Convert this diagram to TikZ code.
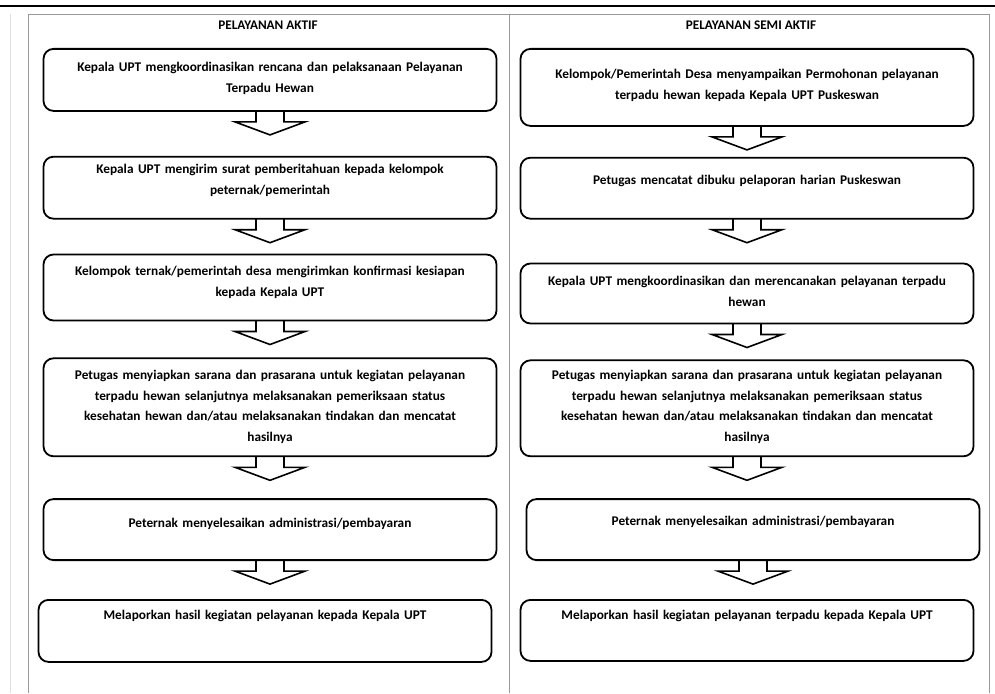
\documentclass[tikz,border=0pt]{standalone}
\usepackage{fontspec}
\setmainfont{Carlito}
\usetikzlibrary{positioning}
\tikzset{
  stepbox/.style={draw, line width=1.8pt, rounded corners=10pt, align=center,
    text width=433pt, inner xsep=10pt, inner ysep=0pt,
    font=\fontsize{13.3}{20.7}\selectfont\bfseries},
  heading/.style={font=\fontsize{13.2}{15}\selectfont\bfseries},
  hollow/.style={draw, line width=1.6pt, line join=miter},
  rule/.style={draw=black!40, line width=0.9pt},
}
\begin{document}
\begin{tikzpicture}[x=1pt, y=-1pt]
\useasboundingbox (0,0) rectangle (995,693);

% table frame
\draw[line width=2pt] (0,6) -- (995,6);
\draw[draw=black!12, line width=0.8pt] (10,14) -- (10,693);
\draw[rule] (28,14) -- (989,14);
\draw[rule] (28,14) -- (28,693);
\draw[rule] (509,14) -- (509,693);
\draw[rule] (989,14) -- (989,693);

\node[heading] (headaktif) at (268,25) {PELAYANAN AKTIF};
\node[heading] (headsemi) at (751,25) {PELAYANAN SEMI AKTIF};

% Pelayanan aktif
\node[stepbox, anchor=north, text height=23pt, text depth=39pt] (aktif1) at (270,48)
  {Kepala UPT mengkoordinasikan rencana dan pelaksanaan Pelayanan\\Terpadu Hewan};
\node[stepbox, below=44pt of aktif1, text height=17pt, text depth=45pt] (aktif2)
  {Kepala UPT mengirim surat pemberitahuan kepada kelompok\\peternak/pemerintah};
\node[stepbox, below=34pt of aktif2, text height=21pt, text depth=45pt] (aktif3)
  {Kelompok ternak/pemerintah desa mengirimkan konfirmasi kesiapan\\kepada Kepala UPT};
\node[stepbox, below=36pt of aktif3, text height=21pt, text depth=77pt] (aktif4)
  {Petugas menyiapkan sarana dan prasarana untuk kegiatan pelayanan\\terpadu hewan selanjutnya melaksanakan pemeriksaan status\\kesehatan hewan dan/atau melaksanakan tindakan dan mencatat\\hasilnya};
\node[stepbox, below=41pt of aktif4, text height=28pt, text depth=33pt] (aktif5)
  {Peternak menyelesaikan administrasi/pembayaran};
\node[stepbox, below=38pt of aktif5, xshift=-5pt, text height=20pt, text depth=42pt] (aktif6)
  {Melaporkan hasil kegiatan pelayanan kepada Kepala UPT};

% Pelayanan semi aktif
\node[stepbox, anchor=north, text height=30pt, text depth=47pt] (semi1) at (747,48)
  {Kelompok/Pemerintah Desa menyampaikan Permohonan pelayanan\\terpadu hewan kepada Kepala UPT Puskeswan};
\node[stepbox, below=30pt of semi1, text height=27pt, text depth=34pt] (semi2)
  {Petugas mencatat dibuku pelaporan harian Puskeswan};
\node[stepbox, below=43pt of semi2, text height=22pt, text depth=38pt] (semi3)
  {Kepala UPT mengkoordinasikan dan merencanakan pelayanan terpadu\\hewan};
\node[stepbox, below=35pt of semi3, text height=19pt, text depth=77pt] (semi4)
  {Petugas menyiapkan sarana dan prasarana untuk kegiatan pelayanan\\terpadu hewan selanjutnya melaksanakan pemeriksaan status\\kesehatan hewan dan/atau melaksanakan tindakan dan mencatat\\hasilnya};
\node[stepbox, below=41pt of semi4, xshift=6pt, text height=26pt, text depth=35pt] (semi5)
  {Peternak menyelesaikan administrasi/pembayaran};
\node[stepbox, below=38pt of semi5, xshift=-6pt, text height=20pt, text depth=41pt] (semi6)
  {Melaporkan hasil kegiatan pelayanan terpadu kepada Kepala UPT};

% hollow arrows between steps
\foreach \a in {aktif1,aktif2,aktif3,aktif4,aktif5,semi1,semi2,semi3,semi4,semi5}
  \draw[hollow] ([xshift=-14pt, yshift=0.9pt]\a.south) -- ++(0,11) -- ++(-21,0)
    -- ++(35,13) -- ++(35,-13) -- ++(-21,0) -- ++(0,-11);

\end{tikzpicture}
\end{document}
